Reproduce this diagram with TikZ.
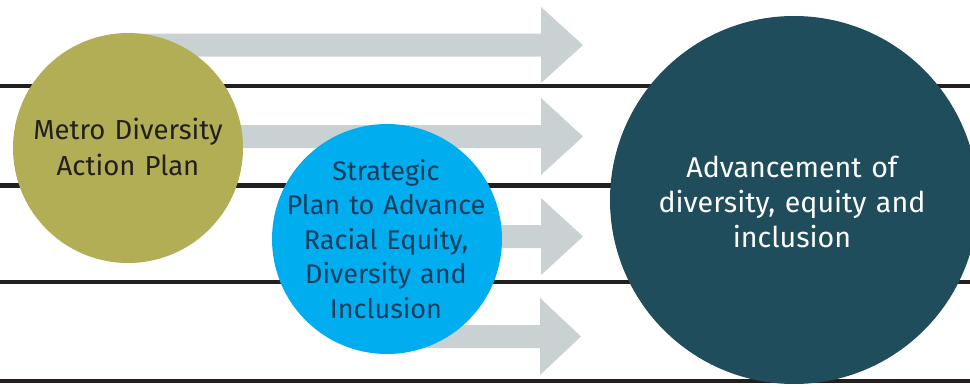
\documentclass[tikz,border=0pt]{standalone}
\usepackage{fontspec}
\setmainfont{Fira Sans}
\definecolor{olivec}{HTML}{B1AE55}
\definecolor{bluec}{HTML}{00AEEF}
\definecolor{darkc}{HTML}{1F4D5C}
\definecolor{arrowc}{HTML}{C9D1D3}
\definecolor{rulec}{HTML}{231F20}
\definecolor{navytext}{HTML}{173D5E}
\tikzset{
  bigcircle/.style={circle, inner sep=0pt, draw=none},
  arrowfill/.style={fill=arrowc},
  rulestyle/.style={draw=rulec, line width=4.5pt},
  circtext/.style={inner sep=0pt, align=center, text width=300pt, anchor=base,
                   font=\fontsize{27.5}{35.7}\selectfont},
}
\begin{document}
\begin{tikzpicture}[x=1pt,y=-1pt]
\useasboundingbox (0,0) rectangle (970,386);
% arrows
\fill[arrowfill] (128,33.5) -- (541,33.5) -- (541,7) -- (583,45) -- (541,83) -- (541,56.5) -- (128,56.5) -- cycle;
\fill[arrowfill] (128,125) -- (541,125) -- (541,98) -- (583,136.5) -- (541,175) -- (541,148) -- (128,148) -- cycle;
\fill[arrowfill] (387,225) -- (541,225) -- (541,198) -- (583,236.5) -- (541,275) -- (541,248) -- (387,248) -- cycle;
\fill[arrowfill] (387,325) -- (540,325) -- (540,298) -- (581,336.5) -- (540,375) -- (540,348) -- (387,348) -- cycle;
% rules
\draw[rulestyle] (0,85.8) -- (970,85.8);
\draw[rulestyle] (0,185.5) -- (970,185.5);
\draw[rulestyle] (0,282) -- (970,282);
\draw[rulestyle] (0,381) -- (970,381);
% circles
\node[bigcircle, fill=olivec, minimum size=230pt] (metro) at (128,148) {};
\node[bigcircle, fill=bluec, minimum size=230pt] (strat) at (387,239) {};
\node[bigcircle, fill=darkc, minimum size=368pt] (adv) at (794,200) {};
% texts
\node[circtext, text=rulec] (metrotxt) at (128,139.3) {Metro Diversity\\Action Plan};
\node[circtext, text=navytext, font=\fontsize{27}{34.5}\selectfont] (strattxt) at (386,180) {Strategic\\Plan to Advance\\Racial Equity,\\Diversity and\\Inclusion};
\node[circtext, text=white, font=\fontsize{28.6}{35.2}\selectfont] (advtxt) at (792,177) {Advancement of\\diversity, equity and\\inclusion};
\end{tikzpicture}
\end{document}
